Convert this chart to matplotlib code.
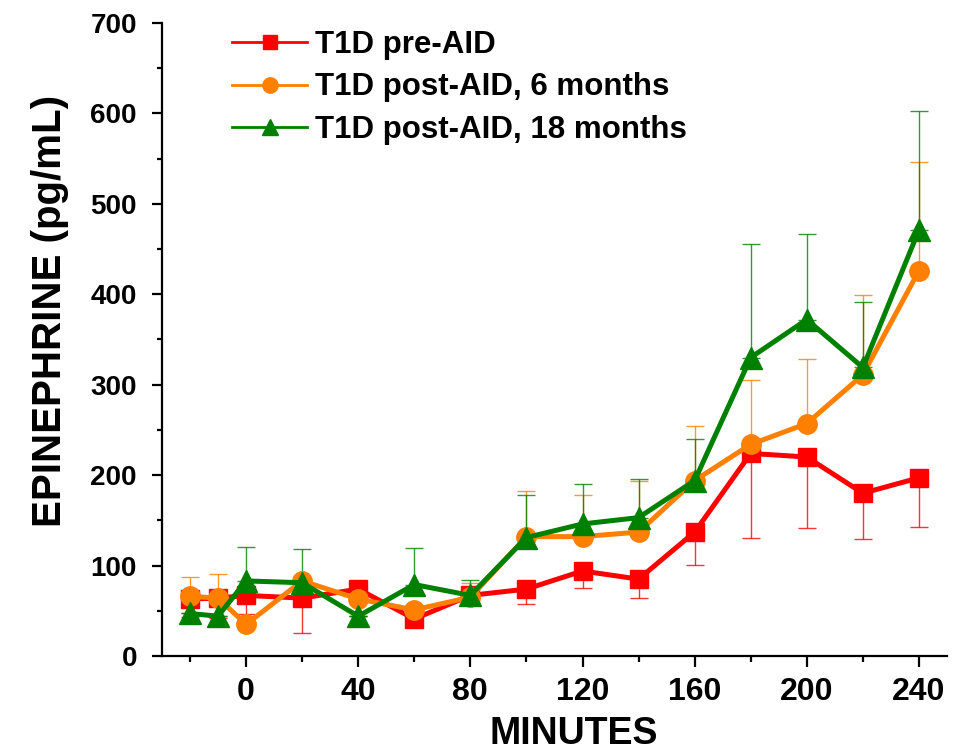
import matplotlib
matplotlib.use("Agg")
import matplotlib.pyplot as plt
from matplotlib.lines import Line2D
import numpy as np

minutes = [-20, -10, 0, 20, 40, 60, 80, 100, 120, 140, 160, 180, 200, 220, 240]

pre_aid = [63, 64, 67, 64, 74, 41, 67, 74, 94, 85, 137, 224, 220, 180, 197]
pre_aid_err_low = [20, 22, 21, 39, 30, 5, 5, 17, 19, 21, 36, 93, 78, 51, 54]

post6 = [66, 64, 35, 83, 63, 51, 65, 132, 132, 137, 194, 234, 257, 311, 426]
post6_err_up = [21, 27, 0, 0, 0, 0, 16, 50, 46, 56, 60, 71, 71, 88, 120]

post18 = [47, 44, 83, 81, 44, 79, 67, 131, 146, 153, 194, 330, 372, 319, 471]
post18_err_up = [0, 0, 37, 37, 0, 40, 17, 47, 44, 43, 46, 125, 95, 72, 132]

labels = ["T1D pre-AID", "T1D post-AID, 6 months", "T1D post-AID, 18 months"]
x_major_ticks = [0, 40, 80, 120, 160, 200, 240]
x_minor_ticks = [-20, 20, 60, 100, 140, 180, 220]

RED = "#ff0000"
ORANGE = "#ff8000"
GREEN = "#008000"

plt.rcParams["font.family"] = ["Liberation Sans", "DejaVu Sans"]

fig = plt.figure(figsize=(9.55, 7.51), dpi=100)
ax = fig.add_axes([0.1696, 0.1265, 0.822, 0.843])

x = np.array(minutes)
zero = np.zeros(len(x))

ekw = dict(fmt="none", elinewidth=1.0, capsize=6.5, capthick=1.0, zorder=1, alpha=0.8)
ax.errorbar(x, pre_aid, yerr=[pre_aid_err_low, zero], ecolor=RED, **ekw)
ax.errorbar(x, post6, yerr=[zero, post6_err_up], ecolor=ORANGE, **ekw)
ax.errorbar(x, post18, yerr=[zero, post18_err_up], ecolor=GREEN, **ekw)

ax.plot(x, pre_aid, color=RED, lw=3.6, marker="s", ms=13, zorder=3)
ax.plot(x, post6, color=ORANGE, lw=3.6, marker="o", ms=14, zorder=4)
ax.plot(x, post18, color=GREEN, lw=3.6, marker="^", ms=15.5, zorder=5)

ax.set_xlim(-30, 250)
ax.set_ylim(0, 700)
ax.spines["top"].set_visible(False)
ax.spines["right"].set_visible(False)
ax.spines["left"].set_linewidth(1.6)
ax.spines["bottom"].set_linewidth(1.6)

ax.set_xticks(x_major_ticks)
ax.set_xticks(x_minor_ticks, minor=True)
ax.set_yticks(np.arange(0, 701, 100))
ax.set_yticks(np.arange(50, 700, 100), minor=True)
ax.tick_params(axis="x", which="major", direction="out", length=8, width=1.6, pad=7)
ax.tick_params(axis="x", which="minor", direction="out", length=4.5, width=1.6)
ax.tick_params(axis="y", which="major", direction="out", length=7, width=1.6, pad=11)
ax.tick_params(axis="y", which="minor", direction="out", length=3.5, width=1.6)

for lab in ax.get_yticklabels():
    lab.set_fontsize(20)
    lab.set_fontweight("bold")
for lab in ax.get_xticklabels():
    lab.set_fontsize(23)
    lab.set_fontweight("bold")

ax.set_xlabel("MINUTES", fontsize=27, fontweight="bold")
ax.xaxis.set_label_coords(0.525, -0.094)
ax.set_ylabel("EPINEPHRINE (pg/mL)", fontsize=29, fontweight="bold")
ax.yaxis.set_label_coords(-0.118, 0.545)

handles = [
    Line2D([], [], color=RED, lw=2, marker="s", ms=10),
    Line2D([], [], color=ORANGE, lw=2, marker="o", ms=11),
    Line2D([], [], color=GREEN, lw=2, marker="^", ms=12),
]
leg = fig.legend(handles, labels, loc="upper left",
                 bbox_to_anchor=(232 / 955, 1 - 30 / 751),
                 bbox_transform=fig.transFigure, frameon=False,
                 prop={"size": 22.5, "weight": "bold"}, handlelength=2.4,
                 handletextpad=0.25, labelspacing=0.4, borderaxespad=0, borderpad=0)

fig.savefig("out.png", dpi=100)
